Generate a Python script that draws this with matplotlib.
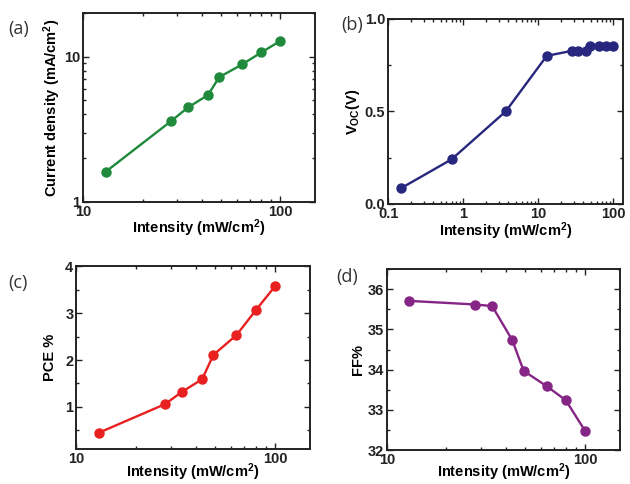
import matplotlib
matplotlib.use("Agg")
import matplotlib.pyplot as plt
from matplotlib.ticker import FixedLocator, MultipleLocator, FuncFormatter

plt.rcParams["font.family"] = ["Liberation Sans", "DejaVu Sans"]
plt.rcParams["font.weight"] = "bold"
plt.rcParams["mathtext.fontset"] = "custom"
plt.rcParams["mathtext.rm"] = "Liberation Sans:bold"
plt.rcParams["mathtext.bf"] = "Liberation Sans:bold"
plt.rcParams["mathtext.it"] = "Liberation Sans:bold"
plt.rcParams["mathtext.default"] = "bf"

# data
intensity = [13, 28, 34, 43, 49, 64, 80, 100]
jsc = [1.61, 3.61, 4.47, 5.45, 7.23, 8.85, 10.7, 12.85]
pce = [0.45, 1.06, 1.32, 1.59, 2.11, 2.53, 3.06, 3.57]
ff = [35.71, 35.62, 35.58, 34.73, 33.97, 33.59, 33.24, 32.48]

intensity_voc = [0.15, 0.7, 3.7, 13, 28, 34, 43, 49, 64, 80, 100]
voc = [0.085, 0.24, 0.50, 0.80, 0.827, 0.827, 0.827, 0.854, 0.854, 0.854, 0.854]

xlabel = "Intensity (mW/cm$^{2}$)"

fig = plt.figure(figsize=(6.3, 4.84), dpi=100)
ax_a = fig.add_axes([0.132, 0.583, 0.368, 0.390])
ax_b = fig.add_axes([0.616, 0.579, 0.373, 0.382])
ax_c = fig.add_axes([0.121, 0.072, 0.371, 0.378])
ax_d = fig.add_axes([0.614, 0.070, 0.370, 0.374])


def style(ax):
    for s in ax.spines.values():
        s.set_linewidth(1.4)
        s.set_color("#222222")
    ax.tick_params(which="both", direction="in", top=True, right=True,
                   width=1.0, colors="#222222", labelsize=10.5, pad=2)
    ax.tick_params(which="major", length=4)
    ax.tick_params(which="minor", length=2.2)
    for lab in ax.get_xticklabels() + ax.get_yticklabels():
        lab.set_fontweight("bold")


def plain(v, pos):
    if v >= 1:
        return f"{v:g}"
    return f"{v:.1f}"


def draw(ax, x, y, color):
    ax.plot(x, y, color=color, lw=1.7, marker="o", ms=6.5,
            markerfacecolor=color, markeredgecolor=color, zorder=3)


# (a) current density
draw(ax_a, intensity, jsc, "#1f8a3c")
ax_a.set_xscale("log")
ax_a.set_yscale("log")
ax_a.set_xlim(10, 150)
ax_a.set_ylim(1, 20)
ax_a.xaxis.set_major_locator(FixedLocator([10, 100]))
ax_a.yaxis.set_major_locator(FixedLocator([1, 10]))
ax_a.xaxis.set_major_formatter(FuncFormatter(plain))
ax_a.yaxis.set_major_formatter(FuncFormatter(plain))
ax_a.set_xlabel(xlabel, fontsize=10.5, fontweight="bold", labelpad=-1)
ax_a.set_ylabel("Current density (mA/cm$^{2}$)", fontsize=10.5,
                fontweight="bold", labelpad=1)

# (b) Voc
draw(ax_b, intensity_voc, voc, "#27277f")
ax_b.set_xscale("log")
ax_b.set_xlim(0.1, 135)
ax_b.set_ylim(0, 1.0)
ax_b.xaxis.set_major_locator(FixedLocator([0.1, 1, 10, 100]))
ax_b.xaxis.set_major_formatter(FuncFormatter(plain))
ax_b.yaxis.set_major_locator(MultipleLocator(0.5))
ax_b.yaxis.set_minor_locator(MultipleLocator(0.25))
ax_b.yaxis.set_major_formatter(FuncFormatter(lambda v, p: f"{v:.1f}"))
ax_b.set_xlabel(xlabel, fontsize=10.5, fontweight="bold", labelpad=0)
ax_b.set_ylabel("V$_{OC}$(V)", fontsize=10.5, fontweight="bold", labelpad=2)

# (c) PCE
draw(ax_c, intensity, pce, "#e82020")
ax_c.set_xscale("log")
ax_c.set_xlim(10, 150)
ax_c.set_ylim(0.1, 4)
ax_c.xaxis.set_major_locator(FixedLocator([10, 100]))
ax_c.xaxis.set_major_formatter(FuncFormatter(plain))
ax_c.yaxis.set_major_locator(FixedLocator([1, 2, 3, 4]))
ax_c.yaxis.set_minor_locator(FixedLocator([0.5, 1.5, 2.5, 3.5]))
ax_c.set_xlabel(xlabel, fontsize=10.5, fontweight="bold", labelpad=-3)
ax_c.set_ylabel("PCE %", fontsize=10.5, fontweight="bold", labelpad=6)

# (d) FF
draw(ax_d, intensity, ff, "#852585")
ax_d.set_xscale("log")
ax_d.set_xlim(10, 150)
ax_d.set_ylim(32, 36.5)
ax_d.xaxis.set_major_locator(FixedLocator([10, 100]))
ax_d.xaxis.set_major_formatter(FuncFormatter(plain))
ax_d.yaxis.set_major_locator(MultipleLocator(1))
ax_d.yaxis.set_minor_locator(MultipleLocator(0.5))
ax_d.set_xlabel(xlabel, fontsize=10.5, fontweight="bold", labelpad=-4)
ax_d.set_ylabel("FF%", fontsize=10.5, fontweight="bold", labelpad=2)

for ax in (ax_a, ax_b, ax_c, ax_d):
    style(ax)

# panel letters
for txt, x, y in [("(a)", 8, 29), ("(b)", 341, 25), ("(c)", 8, 283), ("(d)", 336, 277)]:
    fig.text(x / 630, 1 - y / 484, txt, fontsize=13, family="Open Sans",
             fontweight="normal", color="#333333", va="center", ha="left")

fig.savefig("out.png", dpi=100)
plt.close(fig)
